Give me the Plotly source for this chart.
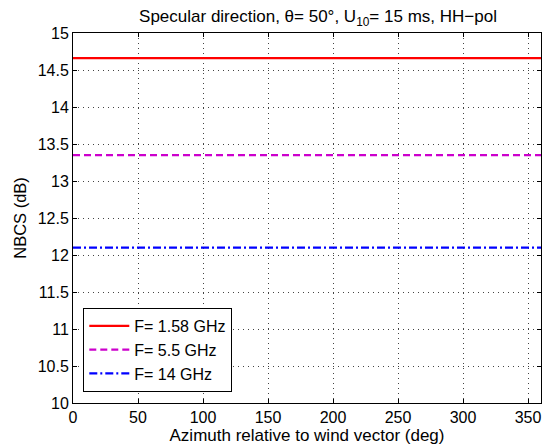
import plotly.graph_objects as go

azimuth = [0, 360]
nbcs_158 = [14.66, 14.66]
nbcs_55 = [13.35, 13.35]
nbcs_14 = [12.1, 12.1]
labels = ["F= 1.58 GHz", "F= 5.5 GHz", "F= 14 GHz"]
x_ticks = [0, 50, 100, 150, 200, 250, 300, 350]
y_ticks = [10, 10.5, 11, 11.5, 12, 12.5, 13, 13.5, 14, 14.5, 15]

FONT = "Liberation Sans, Arial, Helvetica, sans-serif"

fig = go.Figure()
fig.add_trace(go.Scatter(x=azimuth, y=nbcs_158, mode="lines", name=labels[0],
                         line=dict(color="#ff0000", width=2.2)))
fig.add_trace(go.Scatter(x=azimuth, y=nbcs_55, mode="lines", name=labels[1],
                         line=dict(color="#cc00cc", width=2.2, dash="7px,4px")))
fig.add_trace(go.Scatter(x=azimuth, y=nbcs_14, mode="lines", name=labels[2],
                         line=dict(color="#0000ff", width=2.2, dash="8px,3px,2px,3px")))

axis_common = dict(
    showline=True, linecolor="black", linewidth=1, mirror="ticks",
    ticks="inside", ticklen=4, tickcolor="black",
    showgrid=True, gridcolor="#444444", griddash="1px,4px", gridwidth=1,
    zeroline=False,
    tickfont=dict(family=FONT, size=16, color="black"),
)

fig.update_xaxes(range=[0, 360], tickvals=x_ticks, ticktext=[str(v) for v in x_ticks],
                 title=dict(text="Azimuth relative to wind vector (deg)", standoff=1,
                            font=dict(family=FONT, size=17, color="black")),
                 **axis_common)
fig.update_yaxes(range=[10, 15], tickvals=y_ticks, ticktext=[f"{v:g}" for v in y_ticks],
                 title=dict(text="NBCS (dB)", standoff=6,
                            font=dict(family=FONT, size=16.5, color="black")),
                 **axis_common)

fig.update_layout(
    width=543, height=448,
    margin=dict(l=72.5, r=1.5, t=33, b=45),
    paper_bgcolor="white", plot_bgcolor="white",
    title=dict(text="Specular direction, θ= 50°, U<sub>10</sub>= 15 ms, HH−pol",
               x=318 / 543, xanchor="center", y=1 - 16 / 448, yanchor="middle",
               font=dict(family=FONT, size=17, color="black")),
    showlegend=True,
    legend=dict(x=0.022, y=0.03, xanchor="left", yanchor="bottom",
                bgcolor="white", bordercolor="black", borderwidth=1,
                font=dict(family=FONT, size=16, color="black"),
                tracegroupgap=0, itemwidth=40),
)

fig.write_html("out.html")
